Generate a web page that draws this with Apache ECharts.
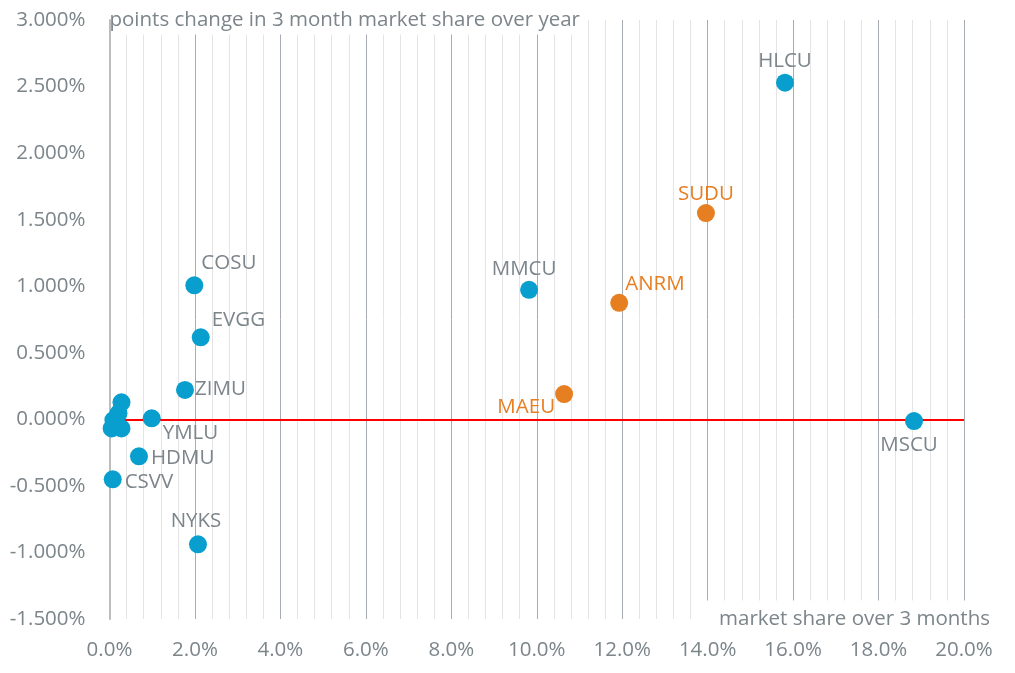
<!DOCTYPE html>
<html>
<head>
<meta charset="utf-8">
<script src="https://cdn.jsdelivr.net/npm/echarts@6/dist/echarts.min.js"></script>
<style>html,body{margin:0;padding:0;background:#fff}#c{width:1015px;height:673px}</style>
</head>
<body>
<div id="c"></div>
<script>
// ---- data ----
const names  = ['HLCU','SUDU','ANRM','MMCU','MAEU','MSCU','COSU','EVGG','ZIMU','YMLU','HDMU','CSVV','NYKS','','','','',''];
const shareX = [15.81,13.96,11.93,9.82,10.64,18.83,1.985,2.135,1.767,0.988,0.690,0.075,2.071,0.28,0.09,0.21,0.05,0.28];
const changeY= [2.529,1.550,0.875,0.973,0.190,-0.013,1.007,0.616,0.221,0.008,-0.278,-0.451,-0.939,0.128,-0.005,0.045,-0.068,-0.068];
const group  = ['b','o','o','b','o','b','b','b','b','b','b','b','b','b','b','b','b','b'];
const xTicks = [0,2,4,6,8,10,12,14,16,18,20];
const yTicks = [-1.5,-1,-0.5,0,0.5,1,1.5,2,2.5,3];
const xTitle = 'market share over 3 months';
const yTitle = 'points change in 3 month market share over year';

// ---- styles ----
const BLUE = '#089fcf', ORANGE = '#e67e22', GREY = '#7b858a';
const FONT = 'Open Sans';
const FS = 20.5;
const labelPlace = {
  HLCU:[0,-22,'center'], SUDU:[0,-19,'center'], ANRM:[6,-19,'left'], MMCU:[-5,-21,'center'],
  MAEU:[-9,13,'right'], MSCU:[-5,24,'center'], COSU:[7,-22,'left'], EVGG:[11,-17,'left'],
  ZIMU:[10,-1,'left'], YMLU:[11,15,'left'], HDMU:[12,2,'left'], CSVV:[12,3,'left'], NYKS:[-2,-23,'center']
};

function buildData(g){
  const out=[];
  names.forEach((n,i)=>{
    if(group[i]!==g) return;
    const p = labelPlace[n];
    const item = {name:n, value:[shareX[i], changeY[i]]};
    if(p){
      item.label = {show:true, position:'inside', offset:[p[0],p[1]], align:p[2], verticalAlign:'middle',
        formatter:n, color: g==='o'?ORANGE:GREY, fontSize:FS, fontFamily:FONT};
    } else item.label={show:false};
    out.push(item);
  });
  return out;
}

const chart = echarts.init(document.getElementById('c'));
chart.setOption({
  animation:false,
  grid:{left:109.5, right:51, top:20, bottom:54},
  xAxis:{
    type:'value', min:xTicks[0], max:xTicks[xTicks.length-1], interval:2,
    axisLine:{show:false, onZero:false}, axisTick:{show:false},
    axisLabel:{formatter:v=>v.toFixed(1)+'%', color:GREY, fontSize:FS, fontFamily:FONT, margin:21},
    splitLine:{show:true, lineStyle:{color:'#a7abb4', width:1}},
    minorTick:{show:false, splitNumber:5},
    minorSplitLine:{show:true, lineStyle:{color:'#e4e4e4', width:1}},
    name:xTitle, nameLocation:'end', nameGap:28,
    nameTextStyle:{align:'right', verticalAlign:'middle', color:GREY, fontSize:FS, fontFamily:FONT,
      backgroundColor:'#fff', padding:[16,2,0,14]}
  },
  yAxis:{
    type:'value', min:yTicks[0], max:yTicks[yTicks.length-1], interval:0.5,
    axisLine:{show:true, onZero:false, lineStyle:{color:'#bdbdbd', width:2}}, axisTick:{show:false},
    axisLabel:{formatter:v=>v.toFixed(3)+'%', color:GREY, fontSize:FS, fontFamily:FONT, margin:24},
    splitLine:{show:false},
    name:yTitle, nameLocation:'end', nameGap:0,
    nameTextStyle:{align:'left', verticalAlign:'middle', color:GREY, fontSize:FS, fontFamily:FONT,
      backgroundColor:'#fff', padding:[4,4,4,0]}
  },
  series:[
    {type:'scatter', symbolSize:18, itemStyle:{color:BLUE, opacity:1}, data:buildData('b'), z:3,
     markLine:{silent:true, symbol:'none', label:{show:false}, lineStyle:{color:'#ff0000', width:2, type:'solid'},
       data:[{yAxis:0}], z:2}},
    {type:'scatter', symbolSize:18, itemStyle:{color:ORANGE, opacity:1}, data:buildData('o'), z:3}
  ]
});
</script>
</body>
</html>
